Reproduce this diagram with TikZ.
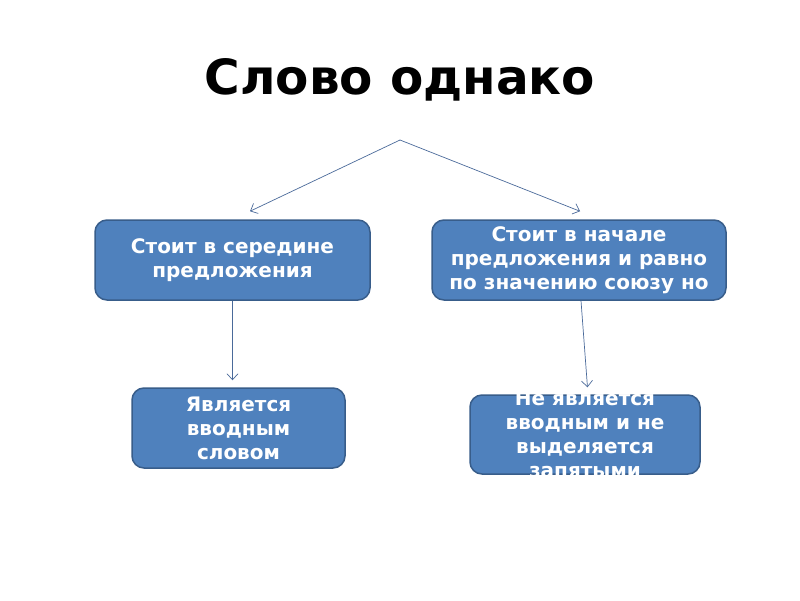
\documentclass[tikz,border=0pt]{standalone}
\usepackage{fontspec}
\setmainfont{DejaVu Sans}
\usetikzlibrary{arrows.meta}

\definecolor{boxfill}{HTML}{4F81BD}
\definecolor{boxline}{HTML}{385D8A}
\definecolor{arrowline}{HTML}{4A6A9A}

\tikzset{
	box/.style={draw=boxline, line width=1.5pt, fill=boxfill, rounded corners=12pt,
		text=white, align=center, inner sep=0pt,
		font=\bfseries\fontsize{20}{24}\selectfont},
	boxtext/.style={text=white, align=center, inner sep=0pt,
		font=\bfseries\fontsize{20}{24}\selectfont},
	link/.style={draw=arrowline, line width=0.7pt, -{Straight Barb[length=6pt,width=11pt]}}
}

\begin{document}
\begin{tikzpicture}[x=1pt,y=-1pt]
	\useasboundingbox[fill=white] (0,0) rectangle (800,600);

	\node[font=\bfseries\fontsize{48.5}{56}\selectfont] (title) at (400,80) {Слово однако};
	\coordinate (top) at (400,140);

	\node[box, minimum width=275pt, minimum height=80pt] (mid) at (232.5,260)
		{Стоит в середине\\предложения};
	\node[box, minimum width=294pt, minimum height=80pt] (start) at (579,260)
		{Стоит в начале\\предложения и равно\\по значению союзу но};
	\node[box, minimum width=213pt, minimum height=80pt] (intro) at (238.5,428)
		{Является\\вводным\\словом};
	\node[box, minimum width=230pt, minimum height=79pt] (notintro) at (585,434.5) {};
	\node[boxtext] (notintrotext) at (notintro.center)
		{Не является\\вводным и не\\выделяется\\запятыми};

	\draw[link] (top) -- ([xshift=17.5pt,yshift=8pt]mid.north);
	\draw[link] (top) -- ([xshift=1pt,yshift=8pt]start.north);
	\draw[link, shorten >=7pt] (mid.south) -- (mid.south |- intro.north);
	\draw[link, shorten >=7pt] ([xshift=2pt]start.south) -- ([xshift=3pt]notintro.north);
\end{tikzpicture}
\end{document}
